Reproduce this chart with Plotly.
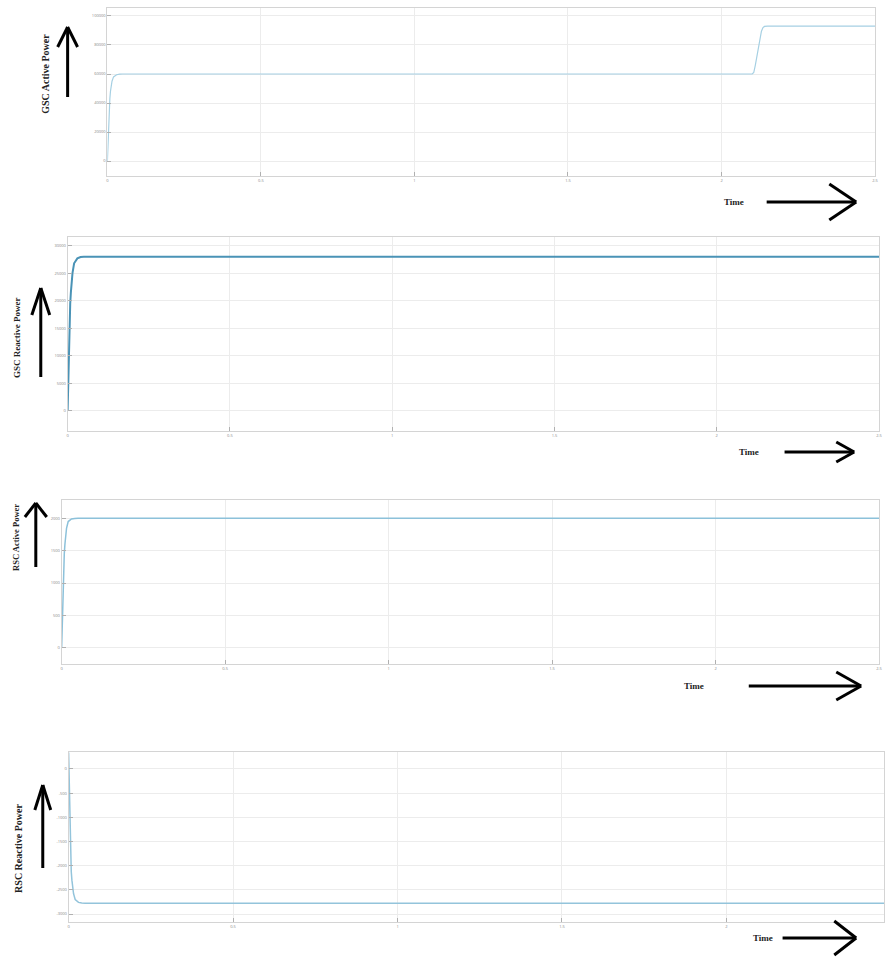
import plotly.graph_objects as go

W, H = 888, 958

# ---------------- data ----------------
time_ticks = [0, 0.5, 1, 1.5, 2, 2.5]
time_tick_text = ["0", "0.5", "1", "1.5", "2", "2.5"]

gsc_p_t = [0, 0.002, 0.005, 0.008, 0.01, 0.015, 0.02, 0.025, 0.03, 0.04, 0.05,
           2.10, 2.105, 2.11, 2.115, 2.12, 2.125, 2.13, 2.135, 2.14, 2.15, 2.5]
gsc_p_v = [0, 15000, 33000, 43000, 48000, 55000, 58000, 59000, 59500, 59900, 60000,
           60000, 61000, 66000, 72000, 79000, 85000, 89500, 92000, 92800, 93000, 93000]
gsc_p_ticks = [0, 20000, 40000, 60000, 80000, 100000]

gsc_q_t = [0, 0.003, 0.006, 0.008, 0.01, 0.015, 0.02, 0.025, 0.03, 0.04, 0.05, 2.5]
gsc_q_v = [0, 9000, 16000, 19500, 21500, 25000, 26800, 27400, 27700, 27950, 28000, 28000]
gsc_q_ticks = [0, 5000, 10000, 15000, 20000, 25000, 30000]

rsc_p_t = [0, 0.003, 0.006, 0.008, 0.01, 0.015, 0.02, 0.025, 0.03, 0.04, 0.05, 2.5]
rsc_p_v = [0, 700, 1200, 1450, 1600, 1850, 1950, 1975, 1990, 1998, 2000, 2000]
rsc_p_ticks = [0, 500, 1000, 1500, 2000]

rsc_q_t = [0, 0.003, 0.006, 0.008, 0.01, 0.015, 0.02, 0.025, 0.03, 0.04, 0.05, 2.5]
rsc_q_v = [340, -800, -1800, -2120, -2300, -2580, -2700, -2740, -2760, -2772, -2775, -2775]
rsc_q_ticks = [0, -500, -1000, -1500, -2000, -2500, -3000]

titles = ["GSC Active Power", "GSC Reactive Power", "RSC Active Power", "RSC Reactive Power"]

# ---------------- layout helpers ----------------
def px(x):
    return x / W

def py(y):
    return 1 - y / H

panels = [
    dict(box=(107, 879, 8, 176), yr=[-10300, 105500], xr=[0, 2.5], col="#a6d0e3", lw=1.2,
         t=gsc_p_t, v=gsc_p_v, ticks=gsc_p_ticks),
    dict(box=(67, 883, 237, 431), yr=[-3690, 31580], xr=[0, 2.5], col="#4a93b6", lw=2.0,
         t=gsc_q_t, v=gsc_q_v, ticks=gsc_q_ticks),
    dict(box=(61, 883, 500, 664), yr=[-252, 2283], xr=[0, 2.5], col="#8cc1da", lw=1.5,
         t=rsc_p_t, v=rsc_p_v, ticks=rsc_p_ticks),
    dict(box=(68, 888, 752, 922), yr=[-3165, 351], xr=[0, 2.479], col="#93c4db", lw=1.5,
         t=rsc_q_t, v=rsc_q_v, ticks=rsc_q_ticks),
]

fig = go.Figure()
layout = dict(width=W, height=H, margin=dict(l=0, r=0, t=0, b=0),
              paper_bgcolor="white", plot_bgcolor="white", showlegend=False)

for i, p in enumerate(panels):
    n = "" if i == 0 else str(i + 1)
    x0, x1, yt, yb = p["box"]
    fig.add_trace(go.Scatter(x=p["t"], y=p["v"], mode="lines",
                             line=dict(color=p["col"], width=p["lw"]),
                             xaxis="x" + n, yaxis="y" + n, hoverinfo="skip"))
    layout["xaxis" + n] = dict(domain=[px(x0), px(x1)], range=p["xr"], anchor="y" + n,
                               tickvals=time_ticks, ticktext=time_tick_text,
                               showgrid=True, gridcolor="#ececec", gridwidth=1,
                               showline=True, linecolor="#d4d4d4", linewidth=1, mirror=True,
                               ticks="inside", ticklen=4, tickcolor="#b0b0b0",
                               tickfont=dict(size=4, color="#888888"), zeroline=False)
    layout["yaxis" + n] = dict(domain=[py(yb), py(yt)], range=p["yr"], anchor="x" + n,
                               tickvals=p["ticks"], ticktext=[str(v) for v in p["ticks"]],
                               showgrid=True, gridcolor="#ececec", gridwidth=1,
                               showline=True, linecolor="#d4d4d4", linewidth=1, mirror=True,
                               ticks="inside", ticklen=4, tickcolor="#b0b0b0",
                               tickfont=dict(size=4, color="#888888"), zeroline=False)

fig.update_layout(**layout)

# ---------------- axis titles and arrows ----------------
ann = []
shapes = []

def line(xa, ya, xb, yb, w=3):
    shapes.append(dict(type="line", xref="paper", yref="paper",
                       x0=px(xa), y0=py(ya), x1=px(xb), y1=py(yb),
                       line=dict(color="black", width=w)))

ytitle_pos = [(44, 74, 10), (16, 338, 9), (15, 537, 8.5), (17, 848, 10)]
for (xc, yc, s), txt in zip(ytitle_pos, titles):
    ann.append(dict(text="<b>" + txt + "</b>", x=px(xc), y=py(yc), xref="paper", yref="paper",
                    showarrow=False, textangle=-90, xanchor="center", yanchor="middle",
                    font=dict(family="Liberation Serif", size=s, color="#222222")))

up_arrows = [(67, 27, 97, 10, 20), (40, 288, 377, 9, 27), (35, 503, 567, 11, 14), (42, 785, 868, 8, 25)]
for x, ya, yb, dx, dy in up_arrows:
    line(x, yb, x, ya)
    line(x, ya, x - dx, ya + dy)
    line(x, ya, x + dx, ya + dy)

right_arrows = [(737, 202, 770, 860, 27, 18), (752, 452, 788, 858, 18, 10),
                (697, 686, 752, 865, 25, 14), (766, 938, 786, 860, 22, 17)]
for tx, y, xs, xa, dx, dy in right_arrows:
    ann.append(dict(text="<b>Time</b>", x=px(tx), y=py(y), xref="paper", yref="paper",
                    showarrow=False, xanchor="center", yanchor="middle",
                    font=dict(family="Liberation Serif", size=9, color="#222222")))
    line(xs, y, xa, y)
    line(xa, y, xa - dx, y - dy)
    line(xa, y, xa - dx, y + dy)

fig.update_layout(annotations=ann, shapes=shapes)
fig.write_html("out.html", config={"displayModeBar": False},
               post_script="document.body.style.margin='0px';document.body.style.overflow='hidden';")
